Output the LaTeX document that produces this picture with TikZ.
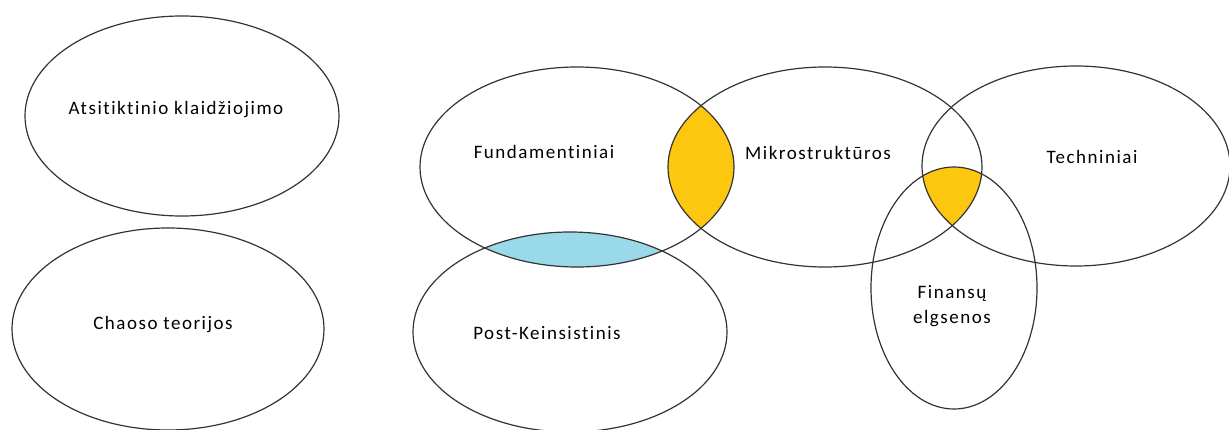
\documentclass[tikz,border=0pt]{standalone}
\usepackage{fontspec}
\setmainfont{Carlito}
\newfontfamily\labelfont[LetterSpace=8,Ligatures=NoCommon]{Carlito}
\definecolor{lensgold}{HTML}{FEC70F}
\definecolor{lensblue}{HTML}{99D9EA}
\newcommand\EllAts{(182,116) ellipse (157 and 100)}
\newcommand\EllChaos{(168,329) ellipse (156 and 101)}
\newcommand\EllFund{(577,167) ellipse (157 and 100)}
\newcommand\EllMikro{(825,167) ellipse (157 and 100)}
\newcommand\EllTech{(1076,166) ellipse (154 and 100)}
\newcommand\EllFin{(954,288) ellipse (83 and 121)}
\newcommand\EllPost{(570,332) ellipse (157 and 100)}

\begin{document}
\begin{tikzpicture}[x=1pt,y=-1pt,
    every node/.style={font=\labelfont\fontsize{19}{25}\selectfont,text=black},
    setline/.style={draw=black!80,line width=1.2pt}]
    \useasboundingbox (0,0) rectangle (1229,430);
    \begin{scope} % Fundamentiniai x Mikrostruktūros
        \clip \EllFund;
        \fill[lensgold] \EllMikro;
    \end{scope}
    \begin{scope} % Fundamentiniai x Post-Keinsistinis
        \clip \EllFund;
        \fill[lensblue] \EllPost;
    \end{scope}
    \begin{scope} % Mikrostruktūros x Techniniai x Finansų
        \clip \EllMikro;
        \clip \EllTech;
        \fill[lensgold] \EllFin;
    \end{scope}
    \draw[setline] \EllAts;
    \draw[setline] \EllChaos;
    \draw[setline] \EllFund;
    \draw[setline] \EllMikro;
    \draw[setline] \EllTech;
    \draw[setline] \EllFin;
    \draw[setline] \EllPost;
    \node (ats) at (176,110) {Atsitiktinio klaidžiojimo};
    \node (chaos) at (163,325) {Chaoso teorijos};
    \node (fund) at (544,152) {Fundamentiniai};
    \node (mikro) at (818,153) {Mikrostruktūros};
    \node (tech) at (1092,157) {Techniniai};
    \node[align=center] (fin) at (952,306) {Finansų\\elgsenos};
    \node (post) at (547,333) {Post-Keinsistinis};
\end{tikzpicture}
\end{document}
